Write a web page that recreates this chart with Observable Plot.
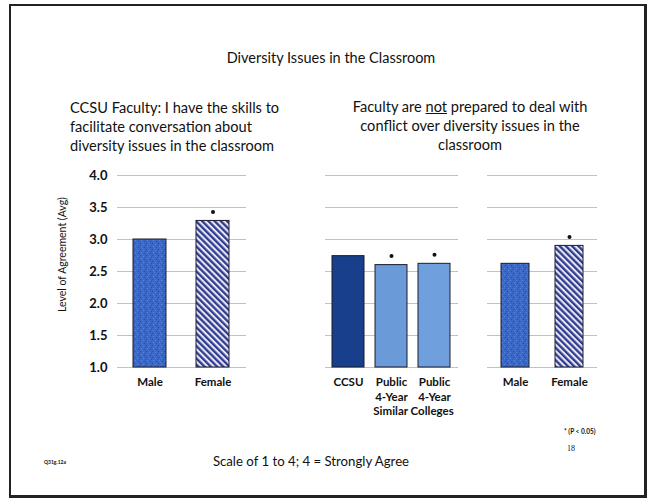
<!DOCTYPE html>
<html><head><meta charset="utf-8">
<script src="https://cdn.jsdelivr.net/npm/d3@7"></script>
<script src="https://cdn.jsdelivr.net/npm/@observablehq/plot@0.6"></script>
<style>
body{margin:0;background:#fff;}
#slide{position:relative;width:649px;height:499px;overflow:hidden;font-family:Lato,"Open Sans",sans-serif;color:#111;background:#fff;}
#frame{position:absolute;left:9px;top:4px;width:633px;height:489px;border:2px solid #222;border-right-width:3px;border-bottom-width:3px;}
.t{position:absolute;white-space:nowrap;line-height:1;}
.panel{position:absolute;}
.panel svg{overflow:visible;}
</style></head>
<body>
<div id="slide">
  <div id="frame"></div>
  <svg width="0" height="0" style="position:absolute">
    <defs>
      <pattern id="speckle" width="6" height="6" patternUnits="userSpaceOnUse">
        <rect width="6" height="6" fill="#3b68c6"/>
        <rect x="0" y="0" width="1" height="1" fill="#2a4c9e"/>
        <rect x="3" y="1" width="1" height="1" fill="#5a88dc"/>
        <rect x="1" y="3" width="1" height="1" fill="#5a88dc"/>
        <rect x="4" y="4" width="1" height="1" fill="#2a4c9e"/>
        <rect x="5" y="2" width="1" height="1" fill="#2f56ad"/>
        <rect x="2" y="5" width="1" height="1" fill="#4a7ad2"/>
      </pattern>
      <pattern id="stripes" width="4.4" height="4.4" patternUnits="userSpaceOnUse" patternTransform="rotate(-45)">
        <rect width="4.4" height="4.4" fill="#ebe6f4"/>
        <rect width="2.3" height="4.4" fill="#2c3c8e"/>
      </pattern>
    </defs>
  </svg>
  <div class="t" style="left:0;width:662px;top:51px;text-align:center;font-size:14.5px;">Diversity Issues in the Classroom</div>
  <div class="t" style="left:70px;top:98px;font-size:14.6px;line-height:19px;">CCSU Faculty: I have the skills to<br>facilitate conversation about<br>diversity issues in the classroom</div>
  <div class="t" style="left:330px;width:280px;top:97px;text-align:center;font-size:14.6px;line-height:19px;">Faculty are <u>not</u> prepared to deal with<br>conflict over diversity issues in the<br>classroom</div>
  <div class="t" style="left:0;width:622px;top:455px;text-align:center;font-size:13.2px;">Scale of 1 to 4; 4 = Strongly Agree</div>
  <div class="t" style="left:564px;top:429px;font-size:6.5px;font-weight:bold;">* (P &lt; 0.05)</div>
  <div class="t" style="left:567px;top:445px;font-size:8px;font-family:'Liberation Serif',serif;">18</div>
  <div class="t" style="left:44px;top:460px;font-size:5px;font-weight:bold;">Q31g.12a</div>
  <div class="panel" id="p1" style="left:20px;top:165px;"></div>
  <div class="panel" id="p2" style="left:315px;top:165px;"></div>
  <div class="panel" id="p3" style="left:477px;top:165px;"></div>
</div>
<script>
// ---- data ----
const gridTicks = [1.0, 1.5, 2.0, 2.5, 3.0, 3.5, 4.0];
const yTitle = "Level of Agreement (Avg)";

const p1Keys = ["Male", "Female"];
const p1Labels = ["Male", "Female"];
const p1Values = [3.0, 3.29];
const p1Sig = [false, true];
const p1Fills = ["url(#speckle)", "url(#stripes)"];

const p2Keys = ["CCSU", "Public4Year", "SimilarColleges"];
const p2Labels = ["CCSU", "Public\n4-Year", "Public\n4-Year"];
const p2Values = [2.74, 2.60, 2.62];
const p2Sig = [false, true, true];
const p2Fills = ["#173f8c", "#6b9ad8", "#6f9fdd"];
const p2Extra = "Similar Colleges";

const p3Keys = ["Male", "Female"];
const p3Labels = ["Male", "Female"];
const p3Values = [2.62, 2.90];
const p3Sig = [false, true];
const p3Fills = ["url(#speckle)", "url(#stripes)"];

const FONT = "Lato, 'Open Sans', sans-serif";

function rows(keys, labels, values, sig, fills) {
  return keys.map((k, i) => ({key: k, label: labels[i], value: values[i], sig: sig[i], fill: fills[i]}));
}

function panel({data, ml, mr, plotW, padIn, padOut, showY, extra}) {
  const H = 202 + 55;
  const marks = [
    Plot.ruleY(gridTicks, {stroke: "#c2c2c2", strokeWidth: 1}),
    Plot.barY(data, {x: "key", y1: 1, y2: "value", fill: "fill", stroke: "#1c1c2c", strokeWidth: 1}),
    Plot.dot(data.filter(d => d.sig), {x: "key", y: "value", r: 2, fill: "#111", dy: -9}),
    Plot.axisX({tickSize: 0, tickPadding: 8, fontSize: 11.5, fontWeight: "bold", lineHeight: 1.3,
      tickFormat: k => data.find(d => d.key === k).label, label: null})
  ];
  if (showY) {
    marks.push(Plot.axisY(gridTicks, {tickSize: 0, tickPadding: 10, fontSize: 13, fontWeight: "bold",
      tickFormat: d3.format(".1f"), label: null}));
    marks.push(Plot.text([yTitle], {frameAnchor: "left", dx: -55, dy: -17, rotate: -90, fontSize: 10.5,
      fill: "#111", textAnchor: "middle", lineAnchor: "middle"}));
  }
  if (extra) marks.push(extra);
  return Plot.plot({
    width: ml + plotW + mr, height: H,
    marginLeft: ml, marginRight: mr, marginTop: 10, marginBottom: 55,
    style: {fontFamily: FONT, color: "#111", background: "transparent", fontSize: "11.5px"},
    x: {domain: data.map(d => d.key), padding: padIn, paddingOuter: padOut, axis: null},
    y: {domain: [1, 4], axis: null},
    color: {type: "identity"},
    marks
  });
}

const d1 = rows(p1Keys, p1Labels, p1Values, p1Sig, p1Fills);
const d2 = rows(p2Keys, p2Labels, p2Values, p2Sig, p2Fills);
const d3r = rows(p3Keys, p3Labels, p3Values, p3Sig, p3Fills);

document.getElementById("p1").append(panel({data: d1, ml: 97, mr: 10, plotW: 129, padIn: 0.47, padOut: 0.25, showY: true}));
document.getElementById("p2").append(panel({data: d2, ml: 10, mr: 30, plotW: 133, padIn: 0.25, padOut: 0.15, showY: false,
  extra: Plot.text([{key: "SimilarColleges", label: p2Extra}], {x: "key", text: "label", frameAnchor: "bottom", dy: 44, dx: -21,
    fontSize: 11.5, fontWeight: "bold", lineAnchor: "middle", fill: "#111"})}));
document.getElementById("p3").append(panel({data: d3r, ml: 10, mr: 10, plotW: 110, padIn: 0.49, padOut: 0.25, showY: false}));
</script>
</body></html>
